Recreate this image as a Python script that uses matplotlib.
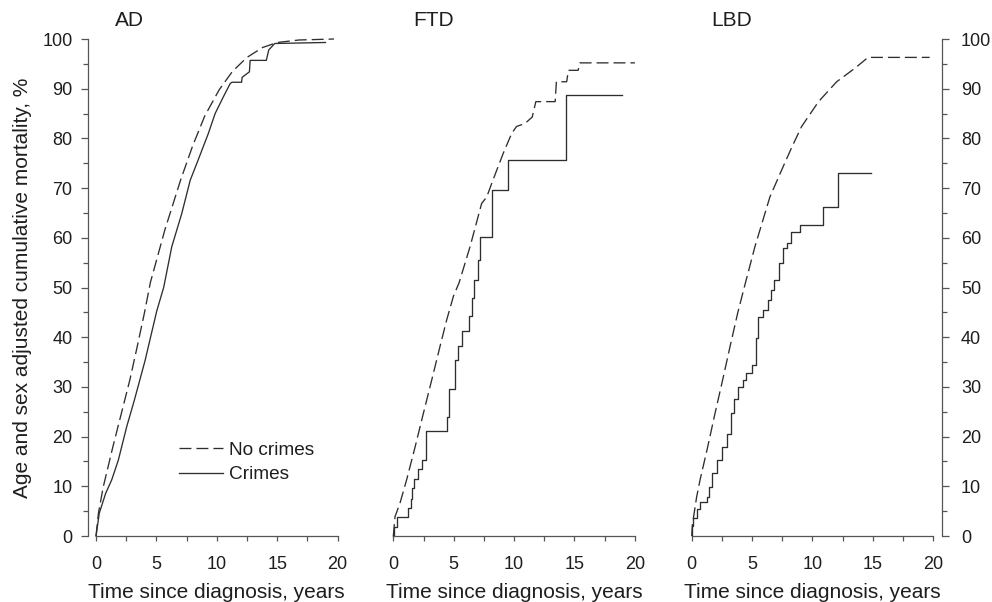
import matplotlib.pyplot as plt
from matplotlib.ticker import MultipleLocator

plt.rcParams['font.family'] = ['Liberation Sans', 'DejaVu Sans']
plt.rcParams['lines.scale_dashes'] = False

# --- data (years since diagnosis, cumulative mortality %) ---
ad_nc_t = [0, 0.2, 0.6, 1.4, 2.1, 2.8, 3.4, 4.0, 4.5, 5.7, 7.0, 8.0, 9.0, 10.2,
           11.3, 12.5, 13.8, 15.0, 16.8, 19.7]
ad_nc_v = [0, 4.6, 9.9, 18, 24.7, 31.4, 38, 44.8, 51, 61.6, 71.6, 78.5, 84.5, 89.8,
           93.5, 96.3, 98.3, 99.3, 99.8, 100]
ad_c_t = [0, 0.27, 0.8, 1.3, 1.85, 2.54, 3.17, 4.06, 5.03, 5.6, 6.27, 7.1, 7.8, 8.35,
          9.3, 9.86, 10.55, 11.1, 11.25, 12.05, 12.1, 12.7, 12.76, 14.1, 14.3, 14.8, 19.0]
ad_c_v = [0, 4.6, 8.6, 11.3, 15.3, 22, 27.3, 35.3, 45.3, 50, 58.2, 64.9, 71.6, 75,
          81, 85, 88.4, 91, 91.3, 91.3, 92.3, 93.4, 95.7, 95.7, 97.8, 99.1, 99.3]

ftd_nc_t = [0, 0.14, 0.55, 1.1, 1.8, 2.49, 3.18, 3.86, 4.42, 4.97, 5.45, 6.35, 7.31,
            7.73, 8.14, 8.56, 9.1, 9.8, 10.2, 10.9, 11.5, 11.8, 13.4, 13.5, 14.35,
            14.5, 15.3, 15.45, 20.0]
ftd_nc_v = [0, 3.9, 6.6, 11.3, 17.9, 24.7, 31.4, 38.1, 43.5, 48.2, 51, 58.2, 66.9,
            68.2, 70.9, 73.6, 77, 81, 82.4, 83, 84.3, 87.4, 87.4, 91.4, 91.4,
            93.7, 93.7, 95.2, 95.2]
ftd_c_t = [0, 0.05, 0.3, 1.19, 1.46, 1.55, 1.74, 2.07, 2.35, 2.68, 4.47, 4.61, 5.1,
           5.38, 5.71, 6.27, 6.49, 6.71, 6.98, 7.18, 8.2, 9.47, 14.3, 18.9]
ftd_c_v = [0, 1.9, 3.8, 5.6, 7.5, 9.6, 11.4, 13.4, 15.3, 21.1, 23.9, 29.6, 35.4,
           38.3, 41.3, 44.3, 47.8, 51.5, 55.5, 60.2, 69.7, 75.6, 88.8, 88.8]

lbd_nc_t = [0, 0.05, 0.41, 0.69, 1.32, 1.93, 2.56, 3.17, 3.8, 4.4, 5.23, 6.47, 7.44,
            8.3, 9.1, 10.5, 12.0, 13.5, 14.6, 19.7]
lbd_nc_v = [0, 2.2, 7.9, 11.3, 17.9, 24.7, 31.4, 38.1, 44.8, 50.5, 58.2, 68.2, 73.6,
            78.3, 82.4, 87.4, 91.4, 94.1, 96.3, 96.3]
lbd_c_t = [0, 0.02, 0.13, 0.4, 0.69, 1.24, 1.46, 1.7, 2.06, 2.48, 2.89, 3.22, 3.5,
           3.85, 4.27, 4.46, 4.96, 5.29, 5.5, 5.92, 6.28, 6.6, 6.83, 7.2, 7.57, 7.85,
           8.26, 8.95, 10.88, 12.11, 14.82]
lbd_c_v = [0, 2.0, 3.6, 5.5, 6.9, 7.9, 9.9, 12.6, 15.3, 17.9, 20.6, 24.7, 27.5,
           30, 31.4, 32.8, 34.4, 39.8, 44.1, 45.5, 47.5, 49.5, 51.5, 54.9, 57.9, 58.9,
           61.2, 62.6, 66.3, 73.1, 73.1]

panels = ['AD', 'FTD', 'LBD']
title_x = [2.8, 3.3, 3.3]

ink = '#1e1e1e'
line_col = '#2e2e2e'
spine_col = '#555555'
fs = 15       # axis labels, panel titles
tfs = 13      # tick labels
dash = (8.6, 3.6)

fig = plt.figure(figsize=(9.92, 6.02), dpi=100)
lefts = [0.0968, 0.3965, 0.6973]
axes = [fig.add_axes([l, 0.1096, 0.2435, 0.8256]) for l in lefts]

series = [
    (ad_nc_t, ad_nc_v, ad_c_t, ad_c_v, 'default'),
    (ftd_nc_t, ftd_nc_v, ftd_c_t, ftd_c_v, 'steps-post'),
    (lbd_nc_t, lbd_nc_v, lbd_c_t, lbd_c_v, 'steps-post'),
]

for i, ax in enumerate(axes):
    nt, nv, ct, cv, ds = series[i]
    ax.plot(nt, nv, color=line_col, lw=0.95, dashes=dash, clip_on=False, label='No crimes')
    ax.plot(ct, cv, color=line_col, lw=0.95, drawstyle=ds, clip_on=False, label='Crimes')
    ax.set_xlim(0, 20)
    ax.set_ylim(0, 100)
    for s in ax.spines.values():
        s.set_visible(False)
        s.set_color(spine_col)
        s.set_linewidth(0.9)
    ax.spines['bottom'].set_visible(True)
    ax.xaxis.set_major_locator(MultipleLocator(5))
    ax.xaxis.set_minor_locator(MultipleLocator(2.5))
    ax.tick_params(axis='x', which='both', direction='out', length=3.6, width=0.9,
                   color=spine_col, pad=11, labelsize=tfs, labelcolor=ink)
    ax.set_xlabel('Time since diagnosis, years', fontsize=fs, color=ink, labelpad=7)
    ax.text(title_x[i], 103.8, panels[i], ha='center', va='center', fontsize=fs,
            color=ink, clip_on=False)
    ax.yaxis.set_major_locator(MultipleLocator(10))
    ax.yaxis.set_minor_locator(MultipleLocator(5))
    if i == 0:
        ax.spines['left'].set_visible(True)
        ax.spines['left'].set_position(('outward', 5.5))
        ax.tick_params(axis='y', which='major', direction='out', length=5, width=0.9,
                       color=spine_col, pad=6.5, labelsize=tfs, labelcolor=ink)
        ax.tick_params(axis='y', which='minor', direction='out', length=3.8, width=0.9,
                       color=spine_col)
        ax.set_ylabel('Age and sex adjusted cumulative mortality, %', fontsize=fs,
                      color=ink, labelpad=7)
        ax.legend(loc='upper left', bbox_to_anchor=(0.345, 0.19), frameon=False,
                  fontsize=13.7, handlelength=2.3, handletextpad=0.3,
                  labelspacing=0.38, borderpad=0, borderaxespad=0,
                  labelcolor=ink)
    elif i == 1:
        ax.tick_params(axis='y', which='both', left=False, labelleft=False)
    else:
        ax.spines['right'].set_visible(True)
        ax.spines['right'].set_position(('outward', 6.5))
        ax.yaxis.tick_right()
        ax.tick_params(axis='y', which='major', direction='out', length=5, width=0.9,
                       color=spine_col, pad=8.5, labelsize=tfs, labelcolor=ink)
        ax.tick_params(axis='y', which='minor', direction='out', length=3.8, width=0.9,
                       color=spine_col)

fig.savefig('out.png', dpi=100)
